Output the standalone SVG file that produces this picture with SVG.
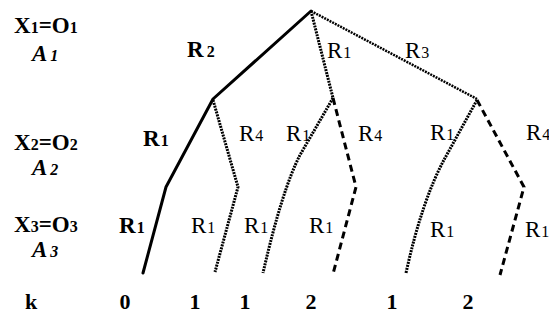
<svg xmlns="http://www.w3.org/2000/svg" width="549" height="324" viewBox="0 0 549 324" font-family="'Liberation Serif', 'DejaVu Serif', serif">
<style>
text{font-family:'Liberation Serif','DejaVu Serif',serif;fill:#000}
.b{font-weight:bold}
.i{font-style:italic;font-weight:bold}
.lab{font-size:23px}
.row{font-size:22px;font-weight:bold}
.s{font-size:16px}
.solid{fill:none;stroke:#000;stroke-width:3;stroke-linecap:round;stroke-linejoin:round}
.dot{fill:none;stroke:#000;stroke-width:3;stroke-dasharray:2 1}
.dash{fill:none;stroke:#000;stroke-width:3;stroke-dasharray:7 4.5}
</style>
<rect width="549" height="324" fill="#fff"/>
<g id="levels">
<text class="b lab" x="14" y="33">X<tspan class="s">1</tspan>=O<tspan class="s">1</tspan></text>
<text class="i lab" x="32" y="61">A<tspan class="s" dx="3">1</tspan></text>
<text class="b lab" x="14" y="150">X<tspan class="s">2</tspan>=O<tspan class="s">2</tspan></text>
<text class="i lab" x="32" y="175">A<tspan class="s" dx="3">2</tspan></text>
<text class="b lab" x="14" y="232">X<tspan class="s">3</tspan>=O<tspan class="s">3</tspan></text>
<text class="i lab" x="32" y="257">A<tspan class="s" dx="3">3</tspan></text>
</g>
<g id="connectors">
<path class="solid" d="M311,11 L213,99 L166,187 L143,273"/>
<path class="dot" d="M213,100 L238,187 L215,272"/>
<path class="dot" d="M311,11 L333,98"/>
<path class="dot" style="stroke-width:2.5" d="M311,11 L477,99"/>
<path class="dot" d="M333,98 L300,155 Q282,190 263,273"/>
<path class="dash" d="M333,98 L356,187 L333,274"/>
<path class="dot" d="M477,100 L445,158 Q422,200 406,273"/>
<path class="dash" d="M477,100 L524,187 L500,275"/>
</g>
<g id="labels">
<text class="b lab" x="187" y="57">R<tspan class="s" dx="3">2</tspan></text>
<text class="lab" x="327" y="58">R<tspan class="s" dx="1">1</tspan></text>
<text class="lab" x="405" y="58">R<tspan class="s" dx="1">3</tspan></text>
<text class="b lab" x="143" y="146">R<tspan class="s" dx="1">1</tspan></text>
<text class="lab" x="239" y="141">R<tspan class="s" dx="1">4</tspan></text>
<text class="lab" x="286" y="141">R<tspan class="s" dx="1">1</tspan></text>
<text class="lab" x="358" y="141">R<tspan class="s" dx="1">4</tspan></text>
<text class="lab" x="430" y="140">R<tspan class="s" dx="1">1</tspan></text>
<text class="lab" x="526" y="140">R<tspan class="s" dx="1">4</tspan></text>
<text class="b lab" x="119" y="233">R<tspan class="s" dx="1">1</tspan></text>
<text class="lab" x="191" y="233">R<tspan class="s" dx="1">1</tspan></text>
<text class="lab" x="244" y="233">R<tspan class="s" dx="1">1</tspan></text>
<text class="lab" x="309" y="233">R<tspan class="s" dx="1">1</tspan></text>
<text class="lab" x="430" y="237">R<tspan class="s" dx="1">1</tspan></text>
<text class="lab" x="525" y="237">R<tspan class="s" dx="1">1</tspan></text>
</g>
<g id="krow">
<text class="row" x="25" y="309">k</text>
<text class="row" x="125" y="309" text-anchor="middle">0</text>
<text class="row" x="195" y="309" text-anchor="middle">1</text>
<text class="row" x="245" y="309" text-anchor="middle">1</text>
<text class="row" x="311" y="309" text-anchor="middle">2</text>
<text class="row" x="392" y="309" text-anchor="middle">1</text>
<text class="row" x="468" y="309" text-anchor="middle">2</text>
</g>
</svg>
